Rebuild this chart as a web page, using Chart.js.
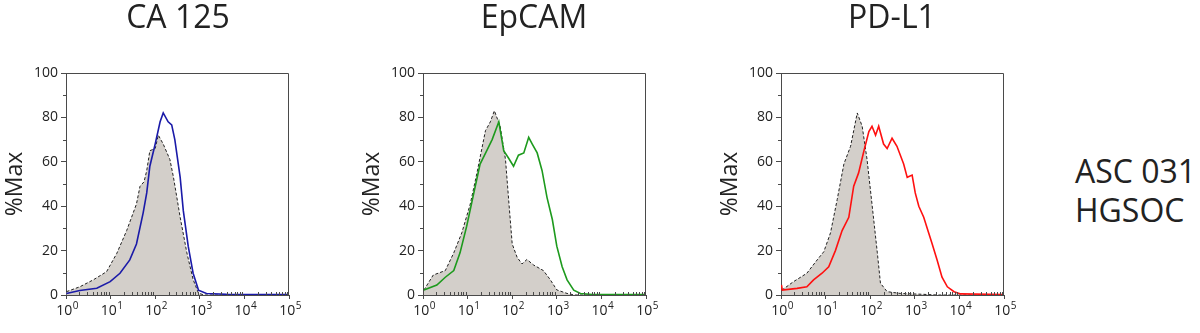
<!DOCTYPE html>
<html>
<head>
<meta charset="utf-8">
<script src="https://cdn.jsdelivr.net/npm/chart.js@4.4.1/dist/chart.umd.min.js"></script>
<style>
  html, body { margin: 0; padding: 0; background: #fff; }
  #wrap { position: relative; width: 1200px; height: 333px; overflow: hidden; }
  canvas { position: absolute; top: 0; }
  .side { position: absolute; left: 1075px; font: 32px "Open Sans", sans-serif; color: #222; line-height: 32px; white-space: nowrap; }
  .ttl { position: absolute; top: 0; width: 200px; text-align: center; font: 32px "Open Sans", sans-serif; color: #222; line-height: 32px; white-space: nowrap; }
</style>
</head>
<body>
<div id="wrap">
  <canvas id="panel0" width="353" height="333" style="left:1px"></canvas>
  <canvas id="panel1" width="353" height="333" style="left:358px"></canvas>
  <canvas id="panel2" width="353" height="333" style="left:716px"></canvas>
  <div class="ttl" id="title0" style="left:78px"></div>
  <div class="ttl" id="title1" style="left:434px"></div>
  <div class="ttl" id="title2" style="left:792px"></div>
  <div class="side" style="top:155px">ASC 031</div>
  <div class="side" style="top:194px">HGSOC</div>
</div>
<script>
// fluorescence positions are in decades (log10 of intensity), values in %Max
var panelTitles = ['CA 125', 'EpCAM', 'PD-L1'];
var stainColors = ['#1a1aa8', '#1d9a1d', '#ff1010'];
var decades = [0, 1, 2, 3, 4, 5];

var ca125CtrlLog = [0.01, 0.31, 0.61, 0.91, 1.14, 1.36, 1.58, 1.66, 1.75, 1.81, 1.88, 2.0, 2.07, 2.18, 2.33, 2.41, 2.56, 2.71, 2.85, 2.97, 3.1, 5];
var ca125CtrlPct = [1.5, 3.7, 6.8, 10.5, 18.8, 29, 41, 49, 51, 56, 65, 66, 72, 68, 61, 53, 35, 19, 7, 0.8, 0, 0];
var ca125StainLog = [0.01, 0.31, 0.69, 0.99, 1.21, 1.43, 1.58, 1.73, 1.81, 1.88, 2.0, 2.11, 2.18, 2.29, 2.37, 2.44, 2.56, 2.63, 2.74, 2.85, 2.97, 3.15, 3.6, 5];
var ca125StainPct = [0.7, 2, 3, 6, 9.8, 15.8, 23, 37, 46, 58, 68, 78, 82, 78, 76.6, 70, 53, 38, 22, 9.8, 2.2, 0.7, 0.3, 0.2];

var epcamCtrlLog = [0.02, 0.23, 0.5, 0.69, 0.87, 1.06, 1.21, 1.4, 1.51, 1.6, 1.73, 1.85, 1.92, 2.0, 2.11, 2.22, 2.33, 2.48, 2.7, 2.85, 3.0, 3.23, 3.4, 5];
var epcamCtrlPct = [2.2, 9, 11, 19, 28, 41, 55, 74, 78, 83, 76, 61, 43, 23, 17, 14, 16, 13.5, 11, 7, 2.3, 0.7, 0, 0];
var epcamStainLog = [0.02, 0.31, 0.5, 0.69, 0.83, 0.98, 1.14, 1.28, 1.43, 1.55, 1.7, 1.81, 1.92, 2.03, 2.14, 2.26, 2.37, 2.45, 2.56, 2.67, 2.78, 2.9, 3.0, 3.12, 3.23, 3.38, 3.53, 3.8, 5];
var epcamStainPct = [2.2, 4.5, 8, 11, 19, 31, 46, 59, 65, 70, 78, 65, 61.6, 58, 63, 64, 71, 68, 64, 56, 44, 34, 22, 12.7, 6.8, 2.2, 0.7, 0.2, 0.2];

var pdl1CtrlLog = [0.02, 0.28, 0.58, 0.81, 0.96, 1.11, 1.26, 1.41, 1.56, 1.71, 1.82, 1.93, 2.04, 2.16, 2.23, 2.38, 2.68, 3.2, 3.5, 5];
var pdl1CtrlPct = [2.2, 6, 9.8, 15.8, 19.5, 28, 43, 59, 67, 82, 76, 61, 41, 19, 5.3, 1.5, 0.7, 0.3, 0, 0];
var pdl1StainLog = [0.01, 0.03, 0.36, 0.58, 0.73, 0.92, 1.07, 1.22, 1.37, 1.52, 1.63, 1.74, 1.86, 1.97, 2.04, 2.12, 2.19, 2.3, 2.38, 2.49, 2.6, 2.75, 2.83, 2.94, 3.01, 3.09, 3.2, 3.31, 3.39, 3.5, 3.61, 3.73, 3.88, 4.03, 5];
var pdl1StainPct = [4.5, 2.2, 3, 3.7, 6.8, 9.8, 12.7, 20, 29, 35, 49, 55, 65, 73.6, 76, 72, 76, 68, 66, 70.6, 67, 59, 53, 54, 46, 40, 35, 28, 23, 15.8, 8, 3.7, 1.5, 0.5, 0.2];

var ctrlLogs = [ca125CtrlLog, epcamCtrlLog, pdl1CtrlLog];
var ctrlPcts = [ca125CtrlPct, epcamCtrlPct, pdl1CtrlPct];
var stainLogs = [ca125StainLog, epcamStainLog, pdl1StainLog];
var stainPcts = [ca125StainPct, epcamStainPct, pdl1StainPct];

function toPoints(xs, ys) {
    return xs.map(function (v, i) { return { x: v, y: ys[i] }; });
}

var supDigits = ['0', '1', '2', '3', '4', '5'];

var flowAxes = {
    id: 'flowAxes',
    afterDraw: function (chart) {
        var ctx = chart.ctx;
        var a = chart.chartArea;
        var x = chart.scales.x;
        var y = chart.scales.y;
        ctx.save();
        ctx.strokeStyle = '#4a4a4a';
        ctx.lineWidth = 1;
        // top and right edges of the box
        ctx.beginPath();
        ctx.moveTo(Math.round(a.left) + 0.5, Math.round(a.top) + 0.5);
        ctx.lineTo(Math.round(a.right) - 0.5, Math.round(a.top) + 0.5);
        ctx.lineTo(Math.round(a.right) - 0.5, Math.round(a.bottom));
        ctx.stroke();
        // minor ticks
        ctx.beginPath();
        for (var d = 0; d < 5; d++) {
            for (var m = 2; m < 10; m++) {
                var px = Math.round(x.getPixelForValue(d + Math.log10(m))) + 0.5;
                ctx.moveTo(px, a.bottom);
                ctx.lineTo(px, a.bottom - 3);
            }
        }
        for (var v = 10; v < 100; v += 20) {
            var py = Math.round(y.getPixelForValue(v)) + 0.5;
            ctx.moveTo(a.left, py);
            ctx.lineTo(a.left - 3, py);
        }
        ctx.stroke();
        // decade labels 10^n
        ctx.fillStyle = '#222';
        ctx.textBaseline = 'alphabetic';
        ctx.textAlign = 'left';
        decades.forEach(function (n) {
            var cx = x.getPixelForValue(n);
            ctx.font = '14px "Open Sans"';
            var w1 = ctx.measureText('10').width;
            ctx.font = '10px "Open Sans"';
            var w2 = ctx.measureText(supDigits[n]).width;
            var start = cx - (w1 + w2) / 2 + 1;
            ctx.font = '14px "Open Sans"';
            ctx.fillText('10', start, 315);
            ctx.font = '10px "Open Sans"';
            ctx.fillText(supDigits[n], start + w1 + 0.5, 309);
        });
        ctx.restore();
    }
};

function makePanel(i) {
    document.getElementById('title' + i).textContent = panelTitles[i];
    new Chart(document.getElementById('panel' + i), {
        type: 'line',
        data: {
            datasets: [
                {
                    label: 'stain',
                    data: toPoints(stainLogs[i], stainPcts[i]),
                    borderColor: stainColors[i],
                    borderWidth: 1.6,
                    pointRadius: 0,
                    fill: false,
                    order: 0
                },
                {
                    label: 'control',
                    data: toPoints(ctrlLogs[i], ctrlPcts[i]),
                    borderColor: '#222',
                    borderWidth: 1,
                    borderDash: [3, 2],
                    backgroundColor: '#d3cfca',
                    pointRadius: 0,
                    fill: 'origin',
                    order: 1
                }
            ]
        },
        options: {
            responsive: false,
            animation: false,
            devicePixelRatio: 1,
            layout: { padding: { left: 0, right: 65, top: 73, bottom: 0 } },
            plugins: {
                legend: { display: false },
                tooltip: { enabled: false },
                title: { display: false }
            },
            scales: {
                x: {
                    type: 'linear',
                    min: 0,
                    max: 5,
                    ticks: { stepSize: 1, display: false },
                    grid: { drawOnChartArea: false, tickLength: 4, color: '#4a4a4a' },
                    border: { color: '#4a4a4a', width: 1 },
                    afterFit: function (s) { s.height = 38; }
                },
                y: {
                    min: 0,
                    max: 100,
                    ticks: {
                        stepSize: 20,
                        color: '#222',
                        padding: 3,
                        font: { family: 'Open Sans', size: 14 }
                    },
                    grid: { drawOnChartArea: false, tickLength: 5, color: '#4a4a4a' },
                    border: { color: '#4a4a4a', width: 1 },
                    title: {
                        display: true,
                        text: '%Max',
                        color: '#222',
                        padding: { top: 1, bottom: 0 },
                        font: { family: 'Open Sans', size: 23 }
                    },
                    afterFit: function (s) { s.width = 65; }
                }
            }
        },
        plugins: [flowAxes]
    });
}

[0, 1, 2].forEach(makePanel);
</script>
</body>
</html>
